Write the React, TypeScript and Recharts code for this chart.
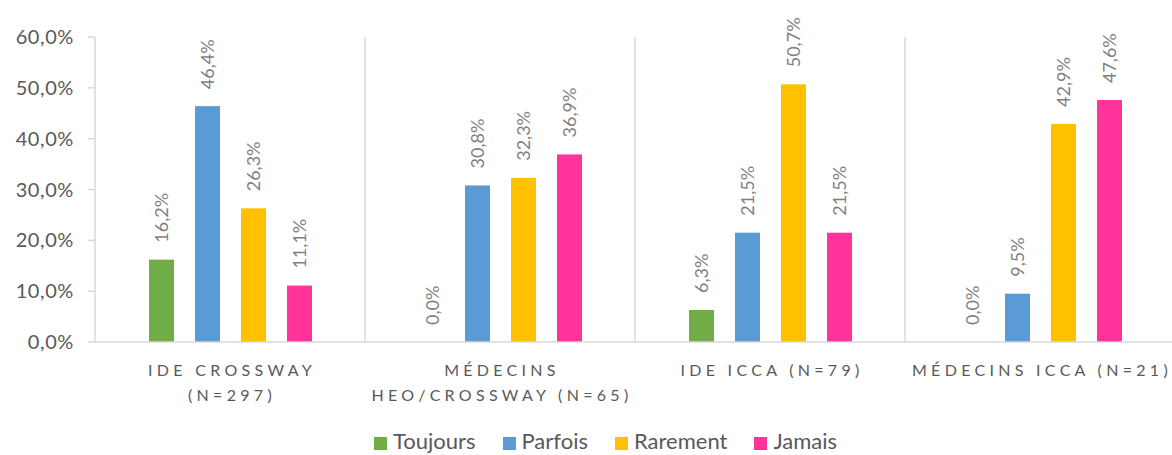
import React from "react";
import { BarChart, Bar, XAxis, YAxis, Legend, CartesianGrid } from "recharts";

const categories = [
  "IDE CROSSWAY\n(N=297)",
  "MÉDECINS\nHEO/CROSSWAY (N=65)",
  "IDE ICCA (N=79)",
  "MÉDECINS ICCA (N=21)",
];
const toujours = [16.2, 0.0, 6.3, 0.0];
const parfois = [46.4, 30.8, 21.5, 9.5];
const rarement = [26.3, 32.3, 50.7, 42.9];
const jamais = [11.1, 36.9, 21.5, 47.6];
const yTicks = [0, 10, 20, 30, 40, 50, 60];

const seriesList = [
  { key: "toujours", name: "Toujours", color: "#70AD47" },
  { key: "parfois", name: "Parfois", color: "#5B9BD5" },
  { key: "rarement", name: "Rarement", color: "#FFC000" },
  { key: "jamais", name: "Jamais", color: "#FF3399" },
];

const data = categories.map((name, i) => ({
  name,
  toujours: toujours[i],
  parfois: parfois[i],
  rarement: rarement[i],
  jamais: jamais[i],
}));

const FONT = "Lato, 'Liberation Sans', sans-serif";
const GRID = "#D9D9D9";
const fmt = (v: number) => Number(v).toFixed(1).replace(".", ",") + "%";

function CategoryTick(props: any) {
  const { x, y, payload } = props;
  const lines = String(payload.value).split("\n");
  return (
    <g>
      {lines.map((line, i) => (
        <text
          key={i}
          x={x + 2}
          y={y + 26 + i * 25}
          textAnchor="middle"
          fill="#595959"
          fontSize={16}
          fontFamily={FONT}
          letterSpacing={4.3}
        >
          {line}
        </text>
      ))}
    </g>
  );
}

// bar + rotated value label drawn together so that 0 values keep their label
function barWithLabel(p: any, key: string, color: string) {
  const value = p.payload ? p.payload[key] : p.value;
  const cx = p.x + p.width / 2;
  const top = value > 0 ? p.y : p.y + p.height;
  const cy = top - 17;
  return (
    <g>
      {value > 0 && (
        <rect x={p.x} y={p.y} width={p.width} height={p.height} fill={color} />
      )}
      <text
        x={cx}
        y={cy}
        transform={`rotate(-90, ${cx}, ${cy})`}
        textAnchor="start"
        dominantBaseline="central"
        fill="#7F7F7F"
        fontSize={18}
        fontFamily={FONT}
      >
        {fmt(value)}
      </text>
    </g>
  );
}

// category boundaries: plot area split into one band per category
function separatorsX(args: any) {
  const { offset } = args || {};
  const n = categories.length;
  return categories.slice(1).map((_, i) => offset.left + (offset.width * (i + 1)) / n);
}

function LegendContent() {
  return (
    <div
      style={{
        display: "flex",
        justifyContent: "center",
        gap: 27,
        fontFamily: FONT,
        fontSize: 22,
        color: "#595959",
        paddingLeft: 36,
        paddingTop: 2,
      }}
    >
      {seriesList.map((s) => (
        <span key={s.key} style={{ display: "flex", alignItems: "center" }}>
          <span
            style={{
              display: "inline-block",
              width: 13,
              height: 13,
              background: s.color,
              marginRight: 6,
              marginTop: 5,
            }}
          />
          {s.name}
        </span>
      ))}
    </div>
  );
}

export default function App() {
  return (
    <div
      style={{
        position: "absolute",
        left: 0,
        top: 0,
        width: 1172,
        height: 455,
        overflow: "hidden",
        background: "#fff",
      }}
    >
      <BarChart
        width={1176}
        height={455}
        data={data}
        margin={{ top: 37, right: 1, left: 0, bottom: 0 }}
        barSize={25}
        barGap={21}
      >
        <CartesianGrid
          horizontal={false}
          stroke={GRID}
          strokeWidth={1.5}
          verticalCoordinatesGenerator={separatorsX}
        />
        <XAxis
          dataKey="name"
          tick={<CategoryTick />}
          tickLine={false}
          axisLine={{ stroke: GRID, strokeWidth: 1.5 }}
          interval={0}
          height={83}
        />
        <YAxis
          width={95}
          domain={[0, 60]}
          ticks={yTicks}
          tickFormatter={fmt}
          tick={{ fill: "#595959", fontSize: 20, fontFamily: FONT, letterSpacing: 0.6 }}
          tickLine={{ stroke: GRID, strokeWidth: 1.5 }}
          tickSize={7}
          tickMargin={14}
          axisLine={{ stroke: GRID, strokeWidth: 1.5 }}
        />
        {seriesList.map((s) => (
          <Bar
            key={s.key}
            dataKey={s.key}
            name={s.name}
            fill={s.color}
            minPointSize={1}
            isAnimationActive={false}
            shape={(p: any) => barWithLabel(p, s.key, s.color)}
          />
        ))}
        <Legend verticalAlign="bottom" height={30} content={<LegendContent />} />
      </BarChart>
    </div>
  );
}
